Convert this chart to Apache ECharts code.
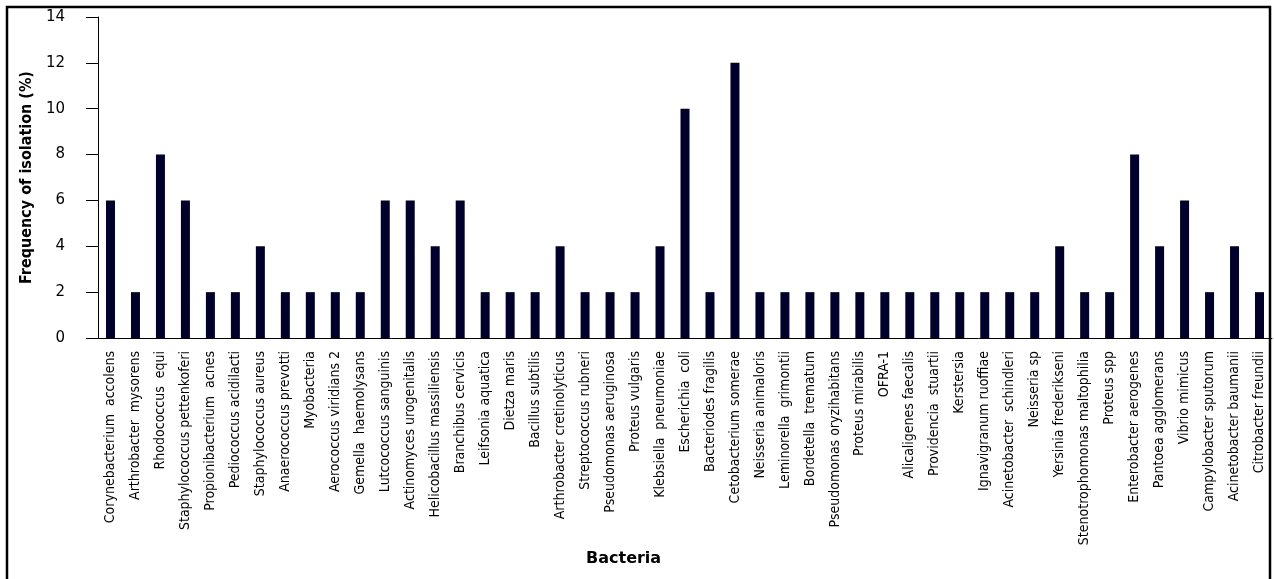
<!DOCTYPE html>
<html>
<head>
<meta charset="utf-8">
<script src="https://cdn.jsdelivr.net/npm/echarts@6/dist/echarts.min.js"></script>
<style>
  html,body{margin:0;padding:0;background:#fff;}
  #chart{width:1274px;height:579px;}
</style>
</head>
<body>
<div id="chart"></div>
<script>
var bacteria = [
  'Corynebacterium  accolens','Arthrobacter  mysorens','Rhodococcus  equi','Staphylococcus pettenkoferi',
  'Propionibacterium  acnes','Pediococcus acidilacti','Staphylococcus aureus','Anaerococcus prevotti',
  'Myobacteria','Aerococcus viridians 2','Gemella  haemolysans','Lutcococcus sanguinis',
  'Actinomyces urogenitalis','Helicobacillus massiliensis','Branchibus cervicis','Leifsonia aquatica',
  'Dietza maris','Bacillus subtilis','Arthrobacter cretinolyticus','Streptococcus rubneri',
  'Pseudomonas aeruginosa','Proteus vulgaris','Klebsiella  pneumoniae','Escherichia  coli',
  'Bacteriodes fragilis','Cetobacterium somerae','Neisseria animaloris','Leminorella  grimontii',
  'Bordetella  trematum','Pseudomonas oryzihabitans','Proteus mirabilis','OFRA-1',
  'Alicaligenes faecalis','Providencia  stuartii','Kerstersia','Ignavigranum ruoffiae',
  'Acinetobacter  schindleri','Neisseria sp','Yersinia frederikseni','Stenotrophomonas maltophilia',
  'Proteus spp','Enterobacter aerogenes','Pantoea agglomerans','Vibrio mimicus',
  'Campylobacter sputorum','Acinetobacter baumanii','Citrobacter freundii'
];
var frequency = [
  6,2,8,6,
  2,2,4,2,
  2,2,2,6,
  6,4,6,2,
  2,2,4,2,
  2,2,4,10,
  2,12,2,2,
  2,2,2,2,
  2,2,2,2,
  2,2,4,2,
  2,8,4,6,
  2,4,2
];

var narrow = '"DejaVu Sans Condensed", "Liberation Sans Narrow", "Roboto Condensed", sans-serif';
var chart = echarts.init(document.getElementById('chart'));
var option = {
  animation:false,
  title:{
    text:'Bacteria',
    left:581,
    top:546,
    textStyle:{fontFamily:'DejaVu Sans',fontWeight:'bold',fontSize:16,color:'#000'}
  },
  graphic:[{
    type:'rect',
    shape:{x:7,y:7,width:1263,height:590},
    style:{fill:'none',stroke:'#000',lineWidth:2.5},
    silent:true
  }],
  grid:{left:98,right:2,top:17,bottom:241},
  xAxis:{
    type:'category',
    data:bacteria,
    axisLine:{lineStyle:{color:'#000',width:1}},
    axisTick:{show:false},
    axisLabel:{
      rotate:90,
      interval:0,
      margin:13,
      color:'#000',
      fontFamily:narrow,
      fontSize:14
    }
  },
  yAxis:{
    type:'value',
    min:0,
    max:14,
    interval:2,
    name:'Frequency of isolation (%)',
    nameLocation:'middle',
    nameGap:55,
    nameTextStyle:{fontFamily:narrow,fontWeight:'bold',fontSize:16,color:'#000'},
    splitLine:{show:false},
    axisLine:{show:true,lineStyle:{color:'#000',width:1}},
    axisTick:{show:true,length:12,lineStyle:{color:'#000'}},
    axisLabel:{color:'#000',fontFamily:'DejaVu Sans',fontSize:15,margin:33}
  },
  series:[{
    type:'bar',
    data:frequency,
    barWidth:9,
    itemStyle:{color:'#00002b'}
  }]
};
chart.setOption(option);
</script>
</body>
</html>
